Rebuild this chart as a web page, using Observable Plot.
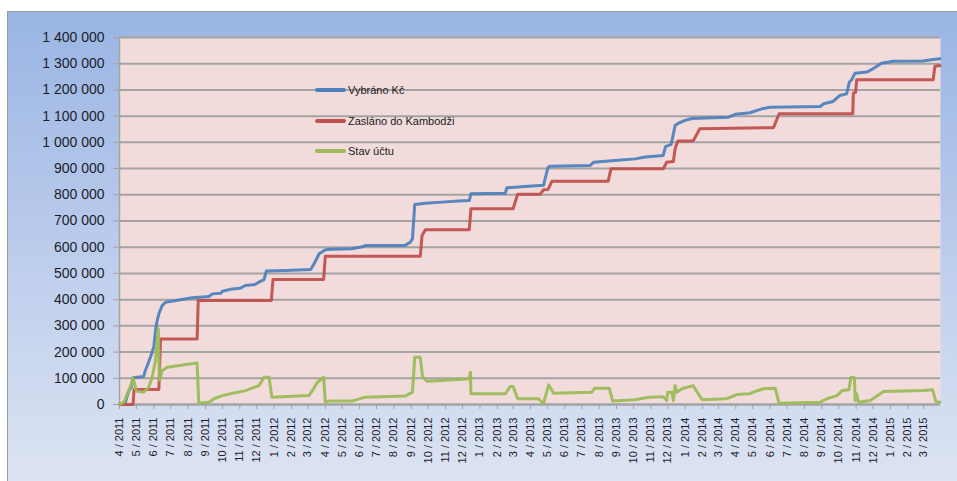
<!DOCTYPE html>
<html>
<head>
<meta charset="utf-8">
<script src="https://cdn.jsdelivr.net/npm/d3@7"></script>
<script src="https://cdn.jsdelivr.net/npm/@observablehq/plot@0.6"></script>
<style>
  html, body { margin: 0; padding: 0; background: #ffffff; }
  #wrap { position: relative; width: 957px; height: 481px; overflow: hidden; }
  #bg { position: absolute; left: 7px; top: 11px; width: 960px; height: 480px;
        border-left: 1px solid #9a9a9a; border-top: 1px solid #9a9a9a;
        background: linear-gradient(180deg, #9ab5e3 0%, #b8caeb 45%, #dee5f3 100%); }
  #chart { position: absolute; left: 0; top: 0; }
  .leg { position: absolute; left: 315px; display: flex; align-items: center; height: 14px;
         font: 11px "Liberation Sans", Arial, sans-serif; color: #1a1a1a; }
  .leg span.sw { display: inline-block; width: 31px; height: 4px; border-radius: 2px; margin-right: 2px; }
</style>
</head>
<body>
<div id="wrap">
  <div id="bg"></div>
  <div id="chart"></div>
  <div id="legend"></div>
</div>
<script>
// Series names and colours
const seriesNames = ["Vybráno Kč", "Zasláno do Kambodži", "Stav účtu"];
const seriesColors = ["#4F81BD", "#C0504D", "#9BBB59"];

// Vybráno Kč (cumulative withdrawn)
const vybrano = [
["2011-04-01",0],["2011-04-11",4000],["2011-04-17",50000],["2011-04-22",66000],["2011-04-25",102000],
["2011-05-14",107000],["2011-05-17",130000],["2011-05-26",180000],["2011-06-01",219000],["2011-06-04",282000],
["2011-06-07",320000],["2011-06-10",346000],["2011-06-16",378000],["2011-06-22",390000],["2011-07-16",399000],
["2011-08-08",407000],["2011-09-07",412000],["2011-09-13",422000],["2011-09-28",424000],["2011-10-01",432000],
["2011-10-19",441000],["2011-11-01",443000],["2011-11-11",454000],["2011-11-28",458000],["2011-12-05",467000],
["2011-12-14",476000],["2011-12-18",509000],["2012-01-21",511000],
["2012-03-06",515000],["2012-03-12",537000],["2012-03-21",575000],["2012-04-01",590000],["2012-04-13",592000],
["2012-05-18",594000],["2012-06-08",603000],["2012-06-11",607000],["2012-08-21",607000],["2012-08-30",619000],
["2012-09-03",632000],["2012-09-07",763000],["2012-09-26",768000],["2012-10-25",772000],["2012-11-24",776000],
["2012-12-13",778000],["2012-12-16",804000],["2013-02-15",806000],["2013-02-18",827000],["2013-03-22",832000],
["2013-04-24",836000],["2013-05-02",905000],["2013-05-06",909000],["2013-07-16",912000],["2013-07-22",924000],
["2013-08-29",931000],["2013-10-04",937000],["2013-10-22",944000],["2013-11-23",950000],["2013-11-27",984000],
["2013-12-07",992000],["2013-12-14",1064000],["2013-12-20",1073000],["2014-01-01",1084000],["2014-01-13",1091000],
["2014-03-19",1096000],["2014-03-31",1107000],["2014-04-26",1113000],["2014-05-17",1128000],["2014-06-01",1134000],
["2014-08-29",1137000],["2014-09-04",1147000],["2014-09-21",1156000],["2014-10-03",1179000],["2014-10-15",1185000],
["2014-10-20",1230000],["2014-10-24",1239000],["2014-10-30",1264000],["2014-11-20",1268000],["2014-12-01",1281000],
["2014-12-16",1302000],["2015-01-06",1309000],["2015-02-28",1310000],["2015-03-18",1316000],["2015-03-30",1319000]
];

// Zasláno do Kambodži (cumulative sent)
const zaslano = [
["2011-04-01",0],["2011-04-25",0],["2011-04-27",57000],["2011-06-10",57000],["2011-06-13",250000],
["2011-08-17",250000],["2011-08-19",397000],["2011-12-27",397000],["2011-12-30",477000],["2012-03-29",477000],
["2012-04-01",566000],["2012-09-17",566000],["2012-09-20",645000],["2012-09-26",667000],["2012-12-13",667000],
["2012-12-16",747000],["2013-03-01",747000],["2013-03-09",802000],["2013-04-18",802000],["2013-04-24",819000],
["2013-05-02",820000],["2013-05-09",852000],["2013-08-17",852000],["2013-08-22",899000],["2013-11-23",899000],
["2013-11-29",924000],["2013-12-11",927000],["2013-12-14",976000],["2013-12-19",1005000],["2014-01-15",1005000],
["2014-01-27",1052000],["2014-06-07",1056000],["2014-06-17",1109000],["2014-10-26",1109000],["2014-10-27",1188000],
["2014-10-31",1191000],["2014-11-02",1239000],["2015-03-18",1239000],["2015-03-21",1290000],["2015-03-30",1293000]
];

// Stav účtu (account balance)
const stav = [
["2011-04-01",0],["2011-04-09",9000],["2011-04-15",41000],["2011-04-21",72000],["2011-04-25",102000],
["2011-04-28",79000],["2011-05-01",51000],["2011-05-14",47000],["2011-05-23",66000],["2011-05-29",104000],
["2011-06-04",168000],["2011-06-09",289000],["2011-06-11",92000],["2011-06-16",130000],["2011-06-25",142000],
["2011-07-16",149000],["2011-08-17",158000],["2011-08-20",5000],["2011-09-07",9000],["2011-09-16",22000],
["2011-10-01",34000],["2011-10-19",43000],["2011-11-11",53000],["2011-12-05",72000],["2011-12-14",104000],
["2011-12-23",104000],["2011-12-28",28000],["2012-03-03",34000],["2012-03-09",53000],["2012-03-18",85000],
["2012-03-29",104000],["2012-04-01",9000],["2012-04-07",13000],["2012-05-18",13000],["2012-06-11",28000],
["2012-08-21",32000],["2012-09-03",47000],["2012-09-07",180000],["2012-09-17",180000],["2012-09-21",104000],
["2012-09-29",89000],["2012-10-25",92000],["2012-12-13",98000],["2012-12-15",123000],["2012-12-16",41000],
["2013-02-15",41000],["2013-02-24",69000],["2013-03-01",69000],["2013-03-09",22000],["2013-04-15",22000],
["2013-04-24",3000],["2013-05-03",75000],["2013-05-12",43000],["2013-07-19",47000],["2013-07-24",62000],
["2013-08-19",62000],["2013-08-25",13000],["2013-10-04",18000],["2013-10-28",28000],["2013-11-23",30000],
["2013-11-29",15000],["2013-12-01",47000],["2013-12-08",47000],["2013-12-11",15000],["2013-12-14",72000],
["2013-12-17",47000],["2013-12-26",60000],["2014-01-15",72000],["2014-01-31",18000],["2014-03-16",22000],
["2014-04-03",38000],["2014-04-26",41000],["2014-05-02",47000],["2014-05-20",60000],["2014-06-10",62000],
["2014-06-17",5000],["2014-08-29",9000],["2014-09-10",22000],["2014-09-28",34000],["2014-10-07",53000],
["2014-10-19",56000],["2014-10-23",104000],["2014-10-29",102000],["2014-10-30",15000],["2014-11-02",41000],
["2014-11-05",9000],["2014-11-26",15000],["2014-12-14",41000],["2014-12-20",50000],["2015-02-28",53000],
["2015-03-17",56000],["2015-03-23",11000],["2015-03-30",9000]
];

// Axis ticks
const yTicks = [0,100000,200000,300000,400000,500000,600000,700000,800000,900000,1000000,1100000,1200000,1300000,1400000];
const xStart = "2011-04-01", xEnd = "2015-03-31";
const monthTicks = d3.utcMonth.range(new Date(xStart), new Date("2015-03-02"));

const parse = d => ({date: new Date(d[0]), value: d[1]});
const series = [vybrano, zaslano, stav].map(s => s.map(parse));

const fmt = d => d3.format(",")(d).replace(/,/g, "\u00a0");

const chart = Plot.plot({
  width: 957, height: 481,
  marginLeft: 119, marginRight: 17, marginTop: 37, marginBottom: 77,
  style: {background: "transparent", fontFamily: "'Liberation Sans', Arial, sans-serif", overflow: "visible"},
  x: {type: "utc", domain: [new Date(xStart), new Date(xEnd)]},
  y: {domain: [0, 1400000]},
  marks: [
    Plot.frame({fill: "#f2dcdb", stroke: "none"}),
    Plot.gridY(yTicks, {stroke: "#a3a3a3", strokeOpacity: 1, strokeWidth: 2}),
    Plot.ruleX([new Date(xStart)], {stroke: "#a3a3a3", strokeWidth: 1.5}),
    Plot.axisY(yTicks, {tickSize: 6, tickPadding: 9, fontSize: 14, stroke: "#a3a3a3", fill: "#1c1c2c", tickFormat: fmt, label: null}),
    Plot.axisX(monthTicks, {tickSize: 5, tickPadding: 8, tickRotate: -90, fontSize: 11, stroke: "#a3a3a3", fill: "#1c1c2c",
      tickFormat: d => `${d.getUTCMonth() + 1} / ${d.getUTCFullYear()}`, label: null}),
    Plot.ruleY([0], {stroke: "#a3a3a3", strokeWidth: 2}),
    ...series.map((s, i) => Plot.line(s, {x: "date", y: "value", stroke: seriesColors[i], strokeWidth: 3,
      strokeLinejoin: "round", strokeLinecap: "round", strokeOpacity: 0.95}))
  ]
});
document.getElementById("chart").appendChild(chart);

// Legend (inside plot area, HTML overlay)
const legTops = [83, 114, 144];
const legend = document.getElementById("legend");
seriesNames.forEach((name, i) => {
  const row = document.createElement("div");
  row.className = "leg";
  row.style.top = legTops[i] + "px";
  const sw = document.createElement("span");
  sw.className = "sw";
  sw.style.background = seriesColors[i];
  row.appendChild(sw);
  row.appendChild(document.createTextNode(name));
  legend.appendChild(row);
});
</script>
</body>
</html>
